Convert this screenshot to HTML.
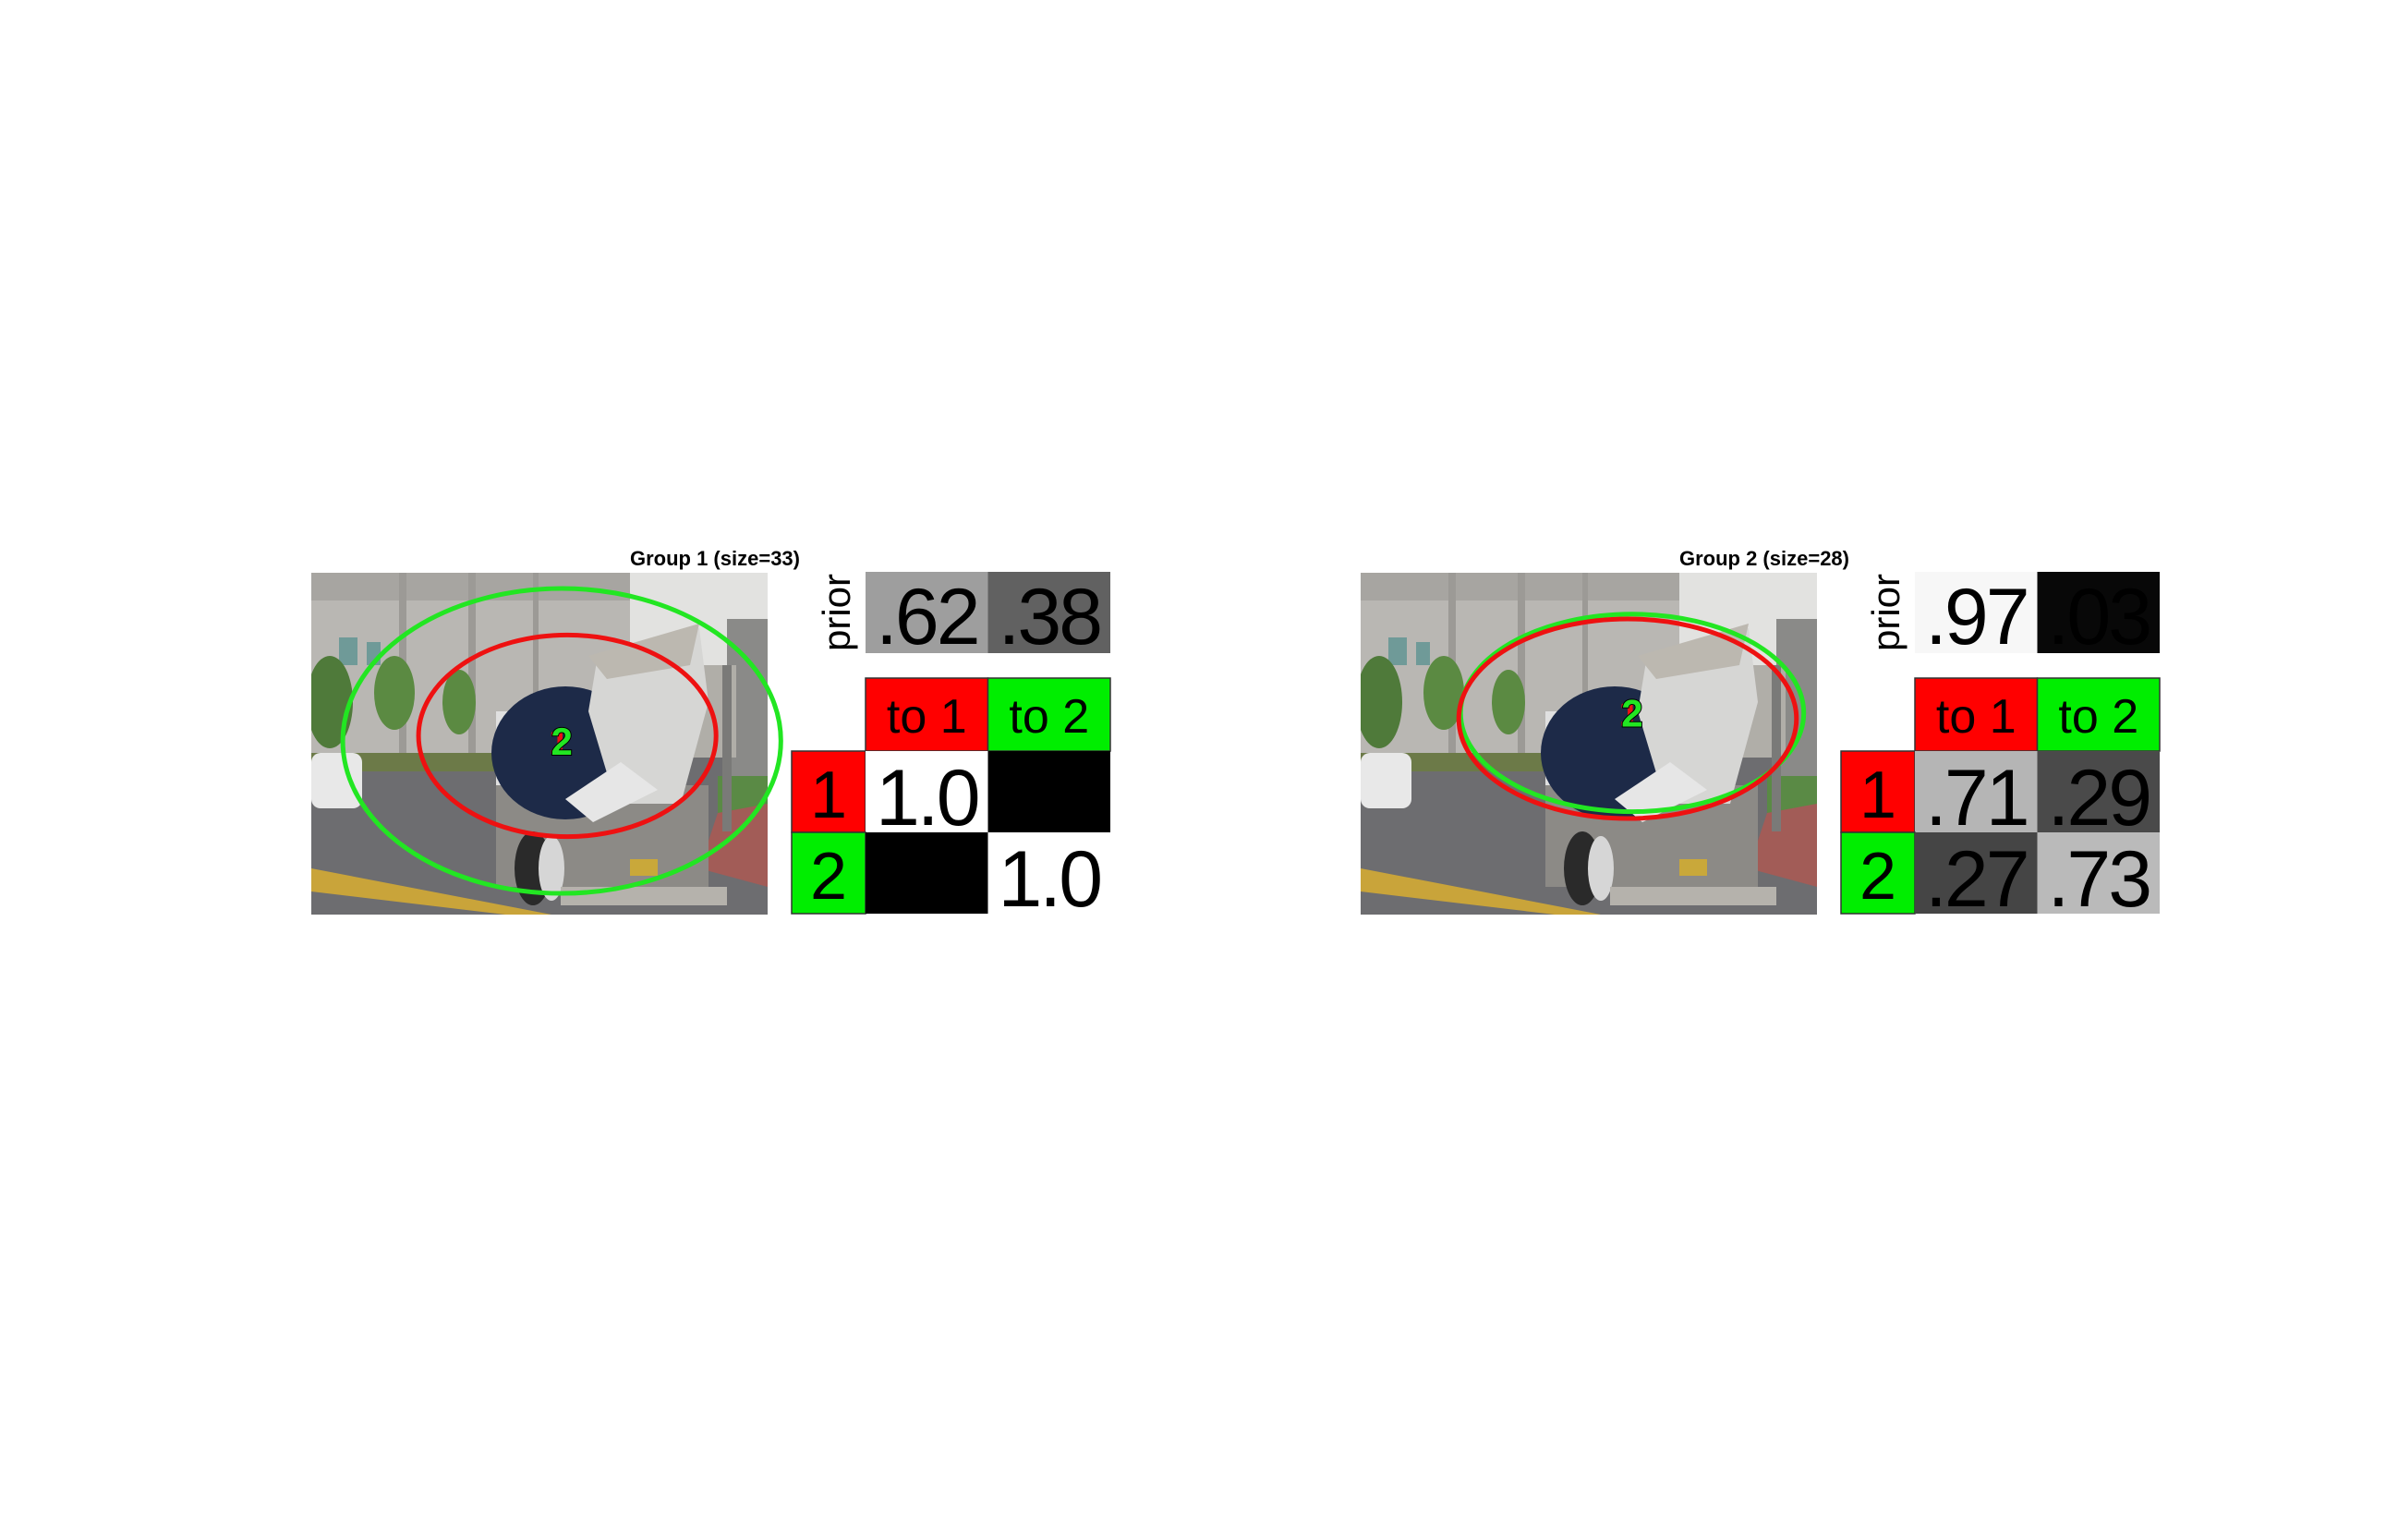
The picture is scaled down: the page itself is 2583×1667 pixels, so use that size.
<!DOCTYPE html>
<html><head><meta charset="utf-8"><style>
html,body{margin:0;padding:0;background:#fff;}
svg{display:block;}
text{font-family:"Liberation Sans",sans-serif;}
</style></head><body>
<svg id="fig" width="2583" height="1667" viewBox="0 0 2583 1667" xmlns="http://www.w3.org/2000/svg">
<defs>
<symbol id="photo" viewBox="0 0 494 370">
<rect x="0" y="0" width="494" height="370" fill="#6d6d70"/>
<rect x="0" y="0" width="345" height="205" fill="#b9b7b3"/>
<rect x="0" y="0" width="345" height="30" fill="#a7a5a1"/>
<rect x="95" y="0" width="8" height="205" fill="#9c9a96"/>
<rect x="170" y="0" width="8" height="205" fill="#9c9a96"/>
<rect x="240" y="0" width="6" height="205" fill="#9c9a96"/>
<rect x="30" y="70" width="20" height="30" fill="#6f9a98"/>
<rect x="60" y="75" width="15" height="25" fill="#6f9a98"/>
<rect x="345" y="0" width="149" height="130" fill="#e2e2e0"/>
<rect x="450" y="50" width="44" height="170" fill="#8a8a88"/>
<rect x="400" y="100" width="60" height="100" fill="#b0aea8"/>
<ellipse cx="20" cy="140" rx="25" ry="50" fill="#4f7a3a"/>
<ellipse cx="90" cy="130" rx="22" ry="40" fill="#5b8a42"/>
<ellipse cx="160" cy="140" rx="18" ry="35" fill="#5b8a42"/>
<rect x="0" y="195" width="200" height="20" fill="#6c7a48"/>
<rect x="440" y="220" width="54" height="60" fill="#5a8a45"/>
<polygon points="440,260 494,250 494,340 420,320" fill="#a25c57"/>
<rect x="0" y="195" width="55" height="60" rx="10" fill="#e8e8e8"/>
<polygon points="0,320 0,345 210,370 260,370" fill="#c9a43a"/>
<rect x="200" y="150" width="60" height="90" fill="#e0e0e0"/>
<rect x="200" y="230" width="230" height="110" fill="#8c8a86"/>
<ellipse cx="275" cy="195" rx="80" ry="72" fill="#1d2a48"/>
<polygon points="310,90 420,60 430,140 400,250 330,250 300,150" fill="#d6d6d4"/>
<polygon points="300,90 420,55 410,100 320,115" fill="#bcb8b0"/>
<polygon points="275,245 335,205 375,235 305,270" fill="#e6e6e6"/>
<ellipse cx="240" cy="320" rx="20" ry="40" fill="#2a2a2a"/>
<ellipse cx="260" cy="320" rx="14" ry="35" fill="#d6d6d6"/>
<rect x="270" y="340" width="180" height="20" fill="#b5b2ac"/>
<rect x="345" y="310" width="30" height="18" fill="#c9a83a"/>
<rect x="445" y="100" width="10" height="180" fill="#7a7a78"/>
</symbol>
</defs>
</svg>
<script>
// Panel data
const groupTitles = ["Group 1 (size=33)", "Group 2 (size=28)"];
const priors1 = [0.62, 0.38];
const priors2 = [0.97, 0.03];
const trans1 = [[1.0, 0.0], [0.0, 1.0]];
const trans2 = [[0.71, 0.29], [0.27, 0.73]];
const priorLabels1 = [".62", ".38"];
const priorLabels2 = [".97", ".03"];
const transLabels1 = [["1.0", ""], ["", "1.0"]];
const transLabels2 = [[".71", ".29"], [".27", ".73"]];
const colLabels = ["to 1", "to 2"];
const rowLabels = ["1", "2"];
// ellipses per group: [cx, cy, rx, ry] in image fraction
const ellRed1 = [0.561, 0.477, 0.326, 0.295];
const ellGreen1 = [0.549, 0.492, 0.480, 0.446];
const ellRed2 = [0.585, 0.427, 0.370, 0.292];
const ellGreen2 = [0.595, 0.410, 0.376, 0.289];

const NS = "http://www.w3.org/2000/svg";
const svg = document.getElementById("fig");
function mk(tag, attrs, parent){
  const e = document.createElementNS(NS, tag);
  for (const k in attrs) e.setAttribute(k, attrs[k]);
  (parent||svg).appendChild(e);
  return e;
}
function gray(v){ const c = Math.round(v*255); return "rgb("+c+","+c+","+c+")"; }
const labelColors = ["#ff0000", "#00ee00"];

function panel(ox, gi, priors, priorLabels, trans, transLabels, er, eg){
  const g = mk("g", {});
  
  
  const photoX = ox, photoY = 620, pw = 494, ph = 370;
  const u = mk("use", {href:"#photo", x:photoX, y:photoY, width:pw, height:ph}, g);
  
  
  const t = mk("text", {x:ox+529, y:612, "text-anchor":"end", "font-size":22, "font-weight":"bold"}, g);
  t.textContent = groupTitles[gi];
  
  
  [[eg,"#22e622"],[er,"#ee1111"]].forEach(function(p, i){
    const e = p[0];
    const el = mk("ellipse", {cx:photoX+e[0]*pw, cy:photoY+e[1]*ph, rx:e[2]*pw, ry:e[3]*ph, fill:"none", stroke:p[1], "stroke-width":5}, g);
    
    
  });
  const lx = photoX+eg[0]*pw, ly = photoY+eg[1]*ph;
  const mr = mk("text", {x:lx-3, y:ly+14, "text-anchor":"middle", "font-size":40, "font-weight":"bold", fill:"#ee1111"}, g);
  mr.textContent = "1";
  
  
  const mg = mk("text", {x:lx, y:ly+15, "text-anchor":"middle", "font-size":42, "font-weight":"bold", fill:"#22e622", stroke:"#000", "stroke-width":2, "paint-order":"stroke"}, g);
  mg.textContent = "2";
  
  

  const labX = ox+520, c0 = ox+600, cw = 132.5;
  const pr = mk("text", {transform:"translate("+(ox+583)+",663) rotate(-90)", "text-anchor":"middle", "font-size":42}, g);
  pr.textContent = "prior";
  
  
  priors.forEach(function(v, j){
    const r = mk("rect", {x:c0+j*cw, y:619, width:cw, height:88, fill:gray(v)}, g);
    
    
    const tx = mk("text", {x:c0+j*cw+cw/2, y:697, "text-anchor":"middle", "font-size":86, "letter-spacing":"-3"}, g);
    tx.textContent = priorLabels[j];
    
    
  });
  colLabels.forEach(function(l, j){
    const r = mk("rect", {x:c0+j*cw, y:734, width:cw, height:79, fill:labelColors[j], stroke:"#333", "stroke-width":1.5}, g);
    
    
    const tx = mk("text", {x:c0+j*cw+cw/2, y:793, "text-anchor":"middle", "font-size":52}, g);
    tx.textContent = l;
    
    
  });
  rowLabels.forEach(function(l, i){
    const y = 813 + i*88;
    const r = mk("rect", {x:labX, y:y, width:80, height:88, fill:labelColors[i], stroke:"#333", "stroke-width":1.5}, g);
    
    
    const tx = mk("text", {x:labX+40, y:y+72, "text-anchor":"middle", "font-size":72}, g);
    tx.textContent = l;
    
    
    trans[i].forEach(function(v, j){
      const c = mk("rect", {x:c0+j*cw, y:y, width:cw, height:88, fill:gray(v)}, g);
      
      
      const tv = mk("text", {x:c0+j*cw+cw/2, y:y+80, "text-anchor":"middle", "font-size":86, "letter-spacing":"-3", fill:"#000"}, g);
      tv.textContent = transLabels[i][j];
      
      
    });
  });
}
panel(337, 0, priors1, priorLabels1, trans1, transLabels1, ellRed1, ellGreen1);
panel(1473, 1, priors2, priorLabels2, trans2, transLabels2, ellRed2, ellGreen2);
</script>
</body></html>
